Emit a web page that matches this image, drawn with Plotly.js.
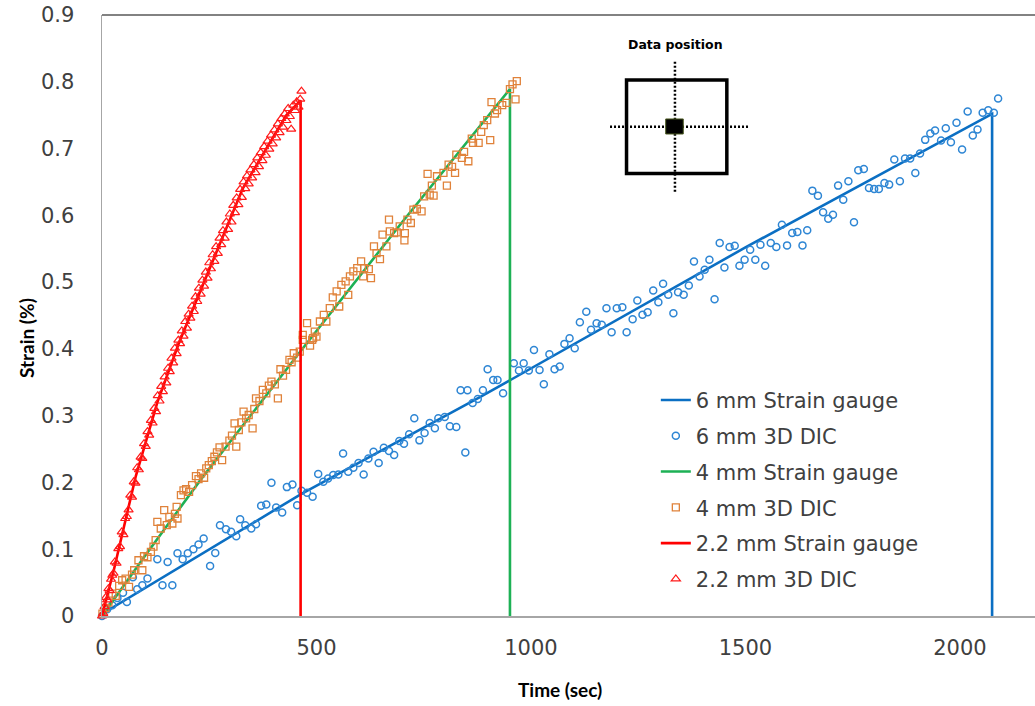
<!DOCTYPE html>
<html><head><meta charset="utf-8">
<script src="https://cdn.plot.ly/plotly-3.0.1.min.js"></script>
<style>html,body{margin:0;padding:0;background:#fff}#chart{width:1035px;height:706px}</style>
</head><body><div id="chart"></div>
<script>
// ---- data ----
const xTickVals = [0, 500, 1000, 1500, 2000];
const xTickText = ['0', '500', '1000', '1500', '2000'];
const yTickVals = [0, 0.1, 0.2, 0.3, 0.4, 0.5, 0.6, 0.7, 0.8, 0.9];
const yTickText = ['0', '0.1', '0.2', '0.3', '0.4', '0.5', '0.6', '0.7', '0.8', '0.9'];

const sg6_t = [0, 465, 882, 1500, 2075, 2075];
const sg6_y = [0.003, 0.183, 0.328, 0.552, 0.752, 0];

const dic6_t = [0,12,24,36,49,58,72,82,94,106,129,141,153,164,176,188,200,213,225,237,252,264,275,289,301,313,322,334,348,359,371,383,395,406,420,431,444,455,465,478,491,504,516,527,539,551,562,574,586,598,610,621,633,645,657,669,681,693,704,716,728,740,752,764,776,784,799,811,826,836,847,852,864,876,888,899,912,922,935,960,972,983,995,1007,1020,1030,1043,1055,1067,1078,1090,1102,1114,1129,1140,1153,1165,1176,1188,1200,1213,1223,1237,1248,1260,1272,1285,1297,1308,1320,1332,1343,1356,1368,1380,1393,1405,1416,1428,1440,1451,1463,1475,1486,1498,1511,1523,1535,1546,1559,1572,1585,1597,1609,1621,1633,1644,1656,1669,1681,1693,1704,1716,1728,1740,1753,1763,1776,1788,1800,1811,1824,1835,1847,1860,1872,1884,1896,1907,1919,1931,1942,1956,1967,1979,1992,2005,2018,2030,2041,2053,2066,2079,2089];
const dic6_y = [0,0.010,0.016,0.027,0.035,0.021,0.058,0.040,0.046,0.056,0.085,0.046,0.081,0.046,0.094,0.085,0.094,0.100,0.107,0.116,0.075,0.0945,0.136,0.130,0.126,0.1195,0.145,0.136,0.131,0.1375,0.165,0.167,0.1995,0.1625,0.155,0.193,0.197,0.166,0.1875,0.1845,0.1785,0.2125,0.201,0.206,0.211,0.212,0.2435,0.216,0.222,0.229,0.212,0.236,0.246,0.229,0.252,0.247,0.241,0.262,0.258,0.272,0.296,0.263,0.274,0.289,0.281,0.296,0.298,0.284,0.283,0.338,0.245,0.338,0.319,0.325,0.338,0.3695,0.3535,0.3535,0.3335,0.3785,0.3675,0.3785,0.3675,0.3985,0.3685,0.347,0.392,0.3695,0.3735,0.4075,0.416,0.401,0.440,0.4555,0.4285,0.4385,0.436,0.461,0.425,0.461,0.4625,0.425,0.4445,0.4725,0.451,0.455,0.4875,0.470,0.4975,0.481,0.4535,0.485,0.481,0.495,0.531,0.5085,0.5185,0.5335,0.4745,0.5585,0.522,0.5525,0.5545,0.5245,0.5335,0.5485,0.5335,0.556,0.5245,0.5585,0.5525,0.586,0.555,0.5735,0.575,0.555,0.5775,0.637,0.6295,0.6045,0.595,0.601,0.6445,0.6235,0.651,0.5895,0.6675,0.6695,0.641,0.6395,0.6395,0.6485,0.646,0.6835,0.651,0.685,0.685,0.6635,0.6925,0.713,0.7225,0.727,0.712,0.7305,0.7095,0.7385,0.6985,0.7555,0.7195,0.7285,0.7535,0.7575,0.7535,0.775];

const sg4_t = [0, 100, 231, 461, 700, 951, 951];
const sg4_y = [0, 0.09, 0.205, 0.395, 0.59, 0.789, 0];

const dic4_t = [1,8,15,24,32,40,47,55,63,70,75,85,94,98,106,114,120,125,129,137,145,151,157,164,170,174,176,184,190,196,203,210,219,225,231,238,243,249,256,262,268,274,280,288,297,303,309,313,319,325,330,336,342,351,355,359,367,375,383,389,395,403,410,416,422,429,437,442,447,455,461,468,468,478,485,490,492,496,500,508,517,523,531,538,547,553,558,568,574,578,586,595,604,609,611,622,627,634,640,648,654,663,669,671,681,687,694,705,706,712,720,726,734,745,751,759,764,769,773,781,796,804,808,816,823,826,839,844,854,862,865,878,884,890,898,905,908,916,921,933,943,951,957,964,967];
const dic4_y = [0.0035,0.012,0.020,0.0335,0.030,0.045,0.0535,0.056,0.0435,0.062,0.0685,0.0835,0.0685,0.0895,0.088,0.096,0.104,0.1135,0.141,0.131,0.1585,0.136,0.1485,0.1385,0.153,0.1635,0.146,0.181,0.188,0.190,0.186,0.196,0.2095,0.205,0.2135,0.207,0.221,0.226,0.232,0.2385,0.245,0.2525,0.2335,0.2535,0.2625,0.270,0.2885,0.2535,0.2785,0.290,0.306,0.296,0.301,0.281,0.310,0.326,0.322,0.3385,0.3335,0.345,0.351,0.347,0.326,0.3695,0.360,0.3685,0.3835,0.380,0.3935,0.387,0.396,0.4135,0.421,0.4385,0.405,0.4135,0.416,0.426,0.4185,0.441,0.451,0.441,0.461,0.477,0.486,0.4635,0.496,0.501,0.481,0.5085,0.516,0.521,0.531,0.5085,0.521,0.5195,0.506,0.5535,0.5435,0.5345,0.571,0.5535,0.5935,0.576,0.5735,0.5745,0.5835,0.5625,0.5735,0.5935,0.5885,0.6085,0.6095,0.606,0.6285,0.662,0.631,0.6445,0.6295,0.6585,0.6635,0.6445,0.676,0.6725,0.6635,0.691,0.686,0.695,0.681,0.715,0.7085,0.7085,0.725,0.735,0.7425,0.7125,0.7695,0.7525,0.7575,0.765,0.7685,0.789,0.796,0.7735,0.801];

const sg22_t = [0, 28, 79, 129, 180, 250, 328, 383, 430, 463, 463];
const sg22_y = [0, 0.07, 0.21, 0.32, 0.41, 0.52, 0.64, 0.70, 0.75, 0.772, 0];

const dic22_t = [0,3,6,9,12,15,18,21,24,27,30,34,38,42,46,50,54,58,62,66,70,74,78,82,86,90,94,98,102,106,110,114,118,122,126,130,134,138,142,146,150,154,158,162,166,170,174,178,182,186,190,194,198,202,206,210,214,218,222,226,230,234,238,242,246,250,254,258,262,266,270,274,278,282,286,290,294,298,302,306,310,314,318,322,326,330,334,338,342,346,350,354,358,362,366,370,374,378,382,386,390,394,398,402,406,410,414,418,422,426,430,434,438,441,446,450,454,458,462,465];
const dic22_y = [0,0.004,0.014,0.028,0.024,0.041,0.038,0.055,0.061,0.064,0.081,0.079,0.101,0.104,0.126,0.122,0.146,0.149,0.159,0.181,0.178,0.201,0.199,0.222,0.219,0.238,0.236,0.258,0.254,0.276,0.271,0.293,0.289,0.311,0.306,0.330,0.322,0.344,0.336,0.358,0.349,0.371,0.366,0.386,0.379,0.401,0.393,0.413,0.408,0.427,0.419,0.441,0.431,0.452,0.446,0.464,0.456,0.478,0.471,0.491,0.482,0.503,0.494,0.515,0.506,0.529,0.520,0.541,0.531,0.553,0.543,0.566,0.556,0.577,0.566,0.590,0.579,0.602,0.590,0.615,0.604,0.626,0.616,0.639,0.627,0.650,0.640,0.659,0.647,0.668,0.656,0.676,0.664,0.686,0.673,0.694,0.682,0.703,0.690,0.711,0.699,0.720,0.707,0.728,0.716,0.737,0.724,0.745,0.732,0.752,0.742,0.760,0.748,0.729,0.765,0.757,0.770,0.762,0.774,0.786];

const seriesNames = ['6 mm Strain gauge', '6 mm 3D DIC', '4 mm Strain gauge', '4 mm 3D DIC', '2.2 mm Strain gauge', '2.2 mm 3D DIC'];

// ---- traces ----
function lineTrace(name, x, y, color, g) {
  return {type: 'scatter', mode: 'lines', name: name, x: x, y: y, legendgroup: g,
          line: {color: color, width: 2.6}, cliponaxis: false, hoverinfo: 'skip'};
}
function markTrace(name, x, y, color, symbol, size, lw, g) {
  return {type: 'scatter', mode: 'markers', name: name, x: x, y: y, legendgroup: g,
          marker: {symbol: symbol, size: size, color: color, line: {color: color, width: lw}},
          cliponaxis: false, hoverinfo: 'skip'};
}
const traces = [
  lineTrace(seriesNames[0], sg6_t, sg6_y, '#0B6FC3', 'a'),
  markTrace(seriesNames[1], dic6_t, dic6_y, '#2E86D4', 'circle-open', 7, 1.5, 'b'),
  lineTrace(seriesNames[2], sg4_t, sg4_y, '#1DB155', 'c'),
  markTrace(seriesNames[3], dic4_t, dic4_y, '#E0823A', 'square-open', 7, 1.3, 'd'),
  lineTrace(seriesNames[4], sg22_t, sg22_y, '#FF0000', 'e'),
  markTrace(seriesNames[5], dic22_t, dic22_y, '#FF1A1A', 'triangle-up-open', 8, 1.2, 'f')
];

const FONT = 'DejaVu Sans, Verdana, sans-serif';
const TFONT = 'Lato, Open Sans, sans-serif';
const layout = {
  width: 1035, height: 706,
  margin: {l: 102, r: 0, t: 15, b: 90},
  paper_bgcolor: '#ffffff', plot_bgcolor: '#ffffff',
  font: {family: FONT, size: 21, color: '#404040'},
  xaxis: {range: [0, 2175], tickvals: xTickVals, ticktext: xTickText, showgrid: false, zeroline: false,
          showline: true, linecolor: '#a6a6a6', linewidth: 1.5, ticks: '', ticklabelstandoff: 12,
          tickfont: {family: FONT, size: 21, color: '#404040'}, fixedrange: true},
  yaxis: {range: [0, 0.9], tickvals: yTickVals, ticktext: yTickText, showgrid: false, zeroline: false,
          showline: true, linecolor: '#a6a6a6', linewidth: 1.5, ticks: '', ticklabelstandoff: 22,
          tickfont: {family: FONT, size: 21, color: '#404040'}, fixedrange: true},
  showlegend: true,
  legend: {x: 0.5936, y: 0.393, xanchor: 'left', yanchor: 'top', bgcolor: 'rgba(0,0,0,0)',
           borderwidth: 0, font: {family: FONT, size: 21, color: '#404040'}, tracegroupgap: 5.5},
  shapes: [
    {type: 'line', xref: 'paper', yref: 'paper', x0: 0, x1: 1, y0: 1, y1: 1, line: {color: '#595959', width: 1.5}},
    {type: 'rect', xref: 'paper', yref: 'paper', x0: 0.5622, x1: 0.6697, y0: 0.7363, y1: 0.8918, line: {color: '#000', width: 3.5}},
    {type: 'line', xref: 'paper', yref: 'paper', x0: 0.6141, x1: 0.6141, y0: 0.7060, y1: 0.9223, line: {color: '#000', width: 2.5, dash: '2px,2px'}},
    {type: 'line', xref: 'paper', yref: 'paper', x0: 0.5445, x1: 0.6927, y0: 0.8141, y1: 0.8141, line: {color: '#000', width: 2.5, dash: '2px,2px'}},
    {type: 'rect', xref: 'paper', yref: 'paper', x0: 0.6042, x1: 0.6230, y0: 0.8020, y1: 0.8270, fillcolor: '#000', line: {color: '#4b5a20', width: 1}}
  ],
  annotations: [
    {text: '<b>Data position</b>', xref: 'paper', yref: 'paper', x: 0.6147, y: 0.9517, xanchor: 'center', yanchor: 'middle',
     showarrow: false, font: {family: FONT, size: 12.5, color: '#000'}},
    {text: '<b>Strain (%)</b>', xref: 'paper', yref: 'paper', x: -0.0804, y: 0.4626, xanchor: 'center', yanchor: 'middle',
     textangle: -90, showarrow: false, font: {family: TFONT, size: 19, color: '#000'}},
    {text: '<b>Time (sec)</b>', xref: 'paper', yref: 'paper', x: 0.4909, y: -0.1231, xanchor: 'center', yanchor: 'middle',
     showarrow: false, font: {family: TFONT, size: 19, color: '#000'}}
  ]
};

Plotly.newPlot('chart', traces, layout, {staticPlot: true, displayModeBar: false});
</script>
</body></html>
